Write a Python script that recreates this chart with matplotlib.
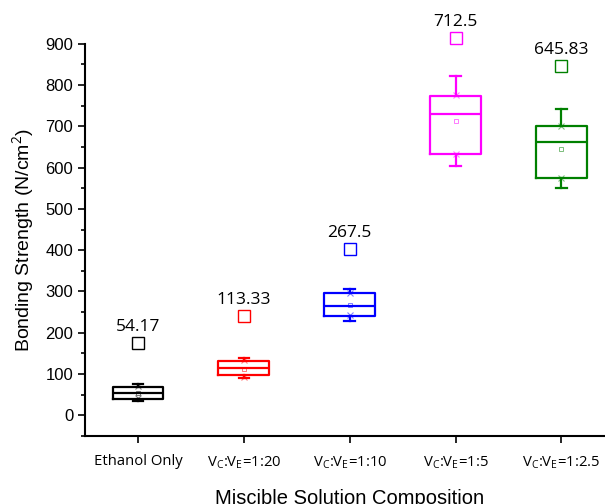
import numpy as np
import matplotlib.pyplot as plt

plt.rcParams['font.family'] = ['Liberation Sans', 'DejaVu Sans']
plt.rcParams['mathtext.fontset'] = 'custom'
plt.rcParams['mathtext.rm'] = 'Open Sans'

# data
categories = ['Ethanol Only',
              r'V$_{\mathrm{C}}$:V$_{\mathrm{E}}$=1:20',
              r'V$_{\mathrm{C}}$:V$_{\mathrm{E}}$=1:10',
              r'V$_{\mathrm{C}}$:V$_{\mathrm{E}}$=1:5',
              r'V$_{\mathrm{C}}$:V$_{\mathrm{E}}$=1:2.5']
q1 = [40, 98, 241, 632, 576]
med = [54, 114, 266, 731, 662]
q3 = [68, 131, 296, 774, 700]
wlo = [34, 90, 228, 604, 551]
whi = [75, 138, 307, 822, 743]
means = [54.17, 113.33, 267.5, 712.5, 645.83]
p1 = [43, 94, 244, 634, 576]
p99 = [70, 135, 296, 775, 700]
tops = [175, 240, 402, 913, 846]
mean_labels = ['54.17', '113.33', '267.5', '712.5', '645.83']
colors = ['black', '#FF0000', '#0000FF', '#FF00FF', '#008000']

fig = plt.figure(figsize=(6.05, 5.04), dpi=100)
ax = fig.add_axes([0.1405, 0.135, 0.875, 0.778])

pos = np.arange(1, len(categories) + 1)
for i, c in enumerate(colors):
    st = dict(q1=q1[i], med=med[i], q3=q3[i], whislo=wlo[i], whishi=whi[i], fliers=[])
    ax.bxp([st], positions=[pos[i]], widths=0.48, showfliers=False, capwidths=0.1,
           boxprops=dict(color=c, linewidth=1.6),
           medianprops=dict(color=c, linewidth=1.6),
           whiskerprops=dict(color=c, linewidth=1.6),
           capprops=dict(color=c, linewidth=1.6))
    ax.plot(pos[i], means[i], 's', mfc='none', mec=c, ms=3.5, mew=0.6, alpha=0.6)
    ax.plot([pos[i], pos[i]], [p1[i], p99[i]], 'x', color=c, ms=4, mew=0.8, alpha=0.5, linestyle='none')
    ax.plot(pos[i], tops[i], 's', mfc='none', mec=c, ms=8, mew=1.0, clip_on=False)
    ax.annotate(mean_labels[i], (pos[i], tops[i]), xytext=(0, 6), textcoords='offset points',
                ha='center', va='bottom', fontsize=12.5, family='Open Sans',
                annotation_clip=False)

ax.set_xlim(0.5, 5.5)
ax.set_ylim(-50, 900)
ax.set_yticks(np.arange(0, 901, 100))
ax.set_yticks(np.arange(-50, 901, 50), minor=True)
ax.set_xticks(pos)
ax.set_xticklabels(categories, family='Open Sans', fontsize=10.7)
ax.tick_params(axis='y', labelsize=12, width=1.2, length=5, direction='out')
ax.tick_params(axis='y', which='minor', width=1.2, length=3)
ax.tick_params(axis='x', width=1.2, length=5, pad=8)
ax.spines['top'].set_visible(False)
ax.spines['right'].set_visible(False)
ax.spines['left'].set_linewidth(1.5)
ax.spines['bottom'].set_linewidth(1.5)
ax.set_ylabel('Bonding Strength (N/cm$^2$)', fontsize=14, labelpad=6)
ax.set_xlabel('Miscible Solution Composition', fontsize=14.5, labelpad=13)

fig.savefig('out.png', dpi=100)
